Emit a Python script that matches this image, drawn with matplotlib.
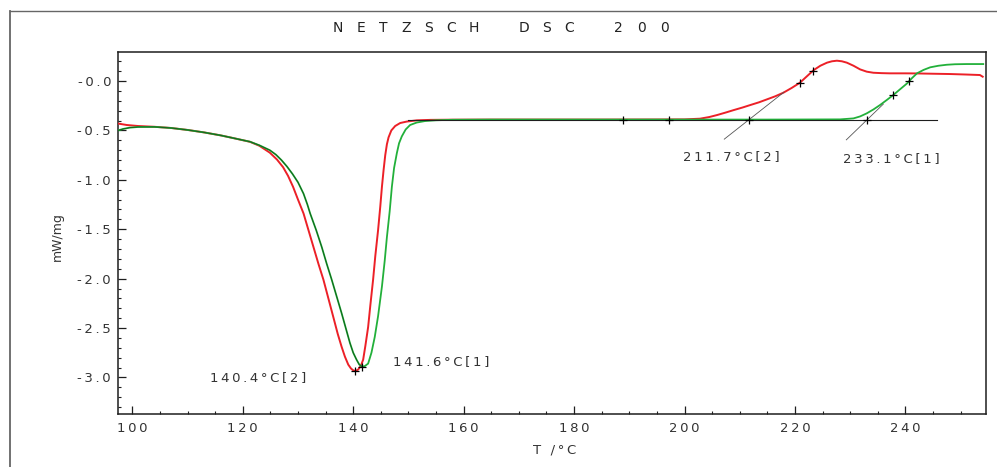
import numpy as np
import matplotlib
matplotlib.use("Agg")
import matplotlib.pyplot as plt
from matplotlib.ticker import MultipleLocator, FuncFormatter
from matplotlib.lines import Line2D

# ---------------- data: DSC heat flow, two samples ----------------
# sample [2] (red)
red_T = [97.4, 99.0, 101.0, 104.0, 107.0, 110.0, 113.0, 116.0, 118.5, 121.3,
         123.0, 124.9, 126.2, 127.3, 128.2, 129.1, 130.0, 131.0, 131.9, 132.8,
         133.7, 134.6, 135.5, 136.4, 137.2, 137.9, 138.5, 139.1, 139.6, 140.0,
         140.4, 140.9, 141.4, 141.8, 142.2, 142.7, 143.1, 143.6, 144.0, 144.5,
         144.9, 145.2, 145.5, 145.8, 146.1, 146.4, 146.9, 147.6, 148.5, 149.7,
         151.5, 154.0, 158.0, 165.0, 175.0, 185.0, 195.0, 200.0, 202.8, 204.5,
         205.9, 207.5, 208.9, 210.5, 211.9, 213.5, 214.9, 216.4, 217.9, 219.4,
         220.9, 222.2, 223.4, 224.6, 225.8, 226.7, 227.6, 228.5, 229.4, 230.6,
         231.8, 233.0, 234.2, 235.7, 237.2, 240.0, 242.1, 245.0, 248.1, 251.0,
         253.5, 254.0]
red_v = [-0.430, -0.445, -0.455, -0.463, -0.475, -0.495, -0.520, -0.550, -0.580, -0.615,
         -0.655, -0.725, -0.795, -0.872, -0.960, -1.070, -1.200, -1.340, -1.510, -1.680,
         -1.850, -2.010, -2.200, -2.390, -2.560, -2.690, -2.790, -2.870, -2.910, -2.928,
         -2.935, -2.920, -2.880, -2.820, -2.680, -2.490, -2.270, -2.010, -1.770, -1.510,
         -1.270, -1.070, -0.900, -0.750, -0.640, -0.570, -0.500, -0.455, -0.425, -0.410,
         -0.398, -0.393, -0.391, -0.390, -0.390, -0.390, -0.389, -0.388, -0.381, -0.364,
         -0.344, -0.318, -0.294, -0.268, -0.243, -0.215, -0.186, -0.155, -0.118, -0.070,
         -0.017, 0.050, 0.111, 0.155, 0.186, 0.200, 0.206, 0.200, 0.186, 0.155,
         0.118, 0.095, 0.084, 0.080, 0.078, 0.078, 0.077, 0.074, 0.071, 0.066,
         0.061, 0.044]

# sample [1] (green)
green_T = [97.4, 98.3, 99.5, 101.0, 104.0, 107.0, 110.0, 113.0, 116.0, 118.5,
           121.3, 123.0, 124.9, 126.0, 127.0, 128.0, 129.0, 130.0, 131.0, 131.7,
           132.2, 133.3, 134.3, 135.2, 136.1, 137.0, 137.9, 138.7, 139.4, 140.0,
           140.6, 141.1, 141.6, 142.1, 142.7, 143.3, 143.9, 144.5, 145.2, 145.7,
           146.1, 146.6, 147.0, 147.4, 147.9, 148.3, 148.8, 149.5, 150.3, 151.5,
           153.0, 155.0, 158.0, 165.0, 175.0, 185.0, 195.0, 205.0, 215.0, 222.0,
           228.2, 230.6, 231.8, 233.0, 234.2, 235.4, 236.6, 237.8, 239.0, 240.3,
           241.2, 242.1, 243.3, 244.5, 246.0, 247.5, 249.0, 251.1, 254.1]
green_v = [-0.500, -0.485, -0.472, -0.465, -0.464, -0.475, -0.495, -0.520, -0.550, -0.580,
           -0.614, -0.650, -0.700, -0.745, -0.800, -0.865, -0.940, -1.025, -1.140, -1.250,
           -1.340, -1.510, -1.680, -1.850, -2.010, -2.180, -2.350, -2.510, -2.650, -2.750,
           -2.820, -2.870, -2.890, -2.885, -2.860, -2.750, -2.590, -2.380, -2.080, -1.820,
           -1.580, -1.320, -1.070, -0.880, -0.730, -0.630, -0.560, -0.490, -0.445, -0.420,
           -0.405, -0.397, -0.392, -0.390, -0.390, -0.390, -0.390, -0.390, -0.390, -0.389,
           -0.388, -0.378, -0.358, -0.327, -0.288, -0.243, -0.193, -0.142, -0.085, -0.024,
           0.030, 0.078, 0.113, 0.139, 0.155, 0.165, 0.170, 0.172, 0.172]

# evaluated results
peak_T = [140.4, 141.6]
peak_v = [-2.935, -2.890]
peak_tags = ["[2]", "[1]"]
onset_T = [211.7, 233.1]
onset_tags = ["[2]", "[1]"]
baseline_level = -0.39
baseline_span = [150.0, 245.8]
baseline_marks_T = [188.8, 197.1]
# tangent through each onset: (start T, end T, slope in mW/mg per K)
tangent_start = [207.2, 229.3]
tangent_end = [218.0, 236.0]
tangent_slope = [0.044, 0.054]
# points picked on the rising flanks
flank_T = [220.9, 223.3, 237.8, 240.6]
flank_v = [-0.017, 0.100, -0.142, 0.003]

x_ticks = [100, 120, 140, 160, 180, 200, 220, 240]
y_ticks = [0.0, -0.5, -1.0, -1.5, -2.0, -2.5, -3.0]

# ---------------- figure ----------------
W, H = 997, 467
plt.rcParams["font.family"] = ["DejaVu Sans"]
fig = plt.figure(figsize=(W / 100, H / 100), dpi=100)
fig.patch.set_facecolor("white")
ax = fig.add_axes([118 / W, 1 - 414 / H, 868 / W, 362 / H])

RED = "#ec2027"
GREEN = "#22b03a"
INK = "#1e1e1e"


def spaced(s):
    return "\u2009".join(s)


ax.plot(red_T, red_v, color=RED, lw=1.4, zorder=3, solid_joinstyle="round")
ax.plot(green_T, green_v, color=GREEN, lw=1.3, zorder=4, solid_joinstyle="round")

# darker trace along the falling flank of sample [1]
gT = np.array(green_T)
gv = np.array(green_v)
m = gT <= peak_T[1]
ax.plot(gT[m], gv[m], color="#0b3d10", lw=0.6, alpha=0.75, zorder=5)

# baseline
ax.plot(baseline_span, [baseline_level, baseline_level], color=INK, lw=0.8, zorder=6)

# onset tangents
for t0, t1, k, to in zip(tangent_start, tangent_end, tangent_slope, onset_T):
    ts = np.array([t0, t1])
    ax.plot(ts, baseline_level + k * (ts - to), color="#555555", lw=0.6, zorder=6)

mk = dict(marker="+", color="k", ms=6, mew=0.9, ls="none", zorder=7)
ax.plot(baseline_marks_T, [baseline_level] * len(baseline_marks_T), **mk)
ax.plot(onset_T, [baseline_level] * len(onset_T), **mk)
ax.plot(flank_T, flank_v, **mk)
ax.plot(peak_T, peak_v, **mk)

# result labels
txt = dict(fontsize=9.5, color="#333333", va="center", ha="left", zorder=8)
ax.text(114.1, -3.00, spaced(f"{peak_T[0]:.1f}°C{peak_tags[0]}"), **txt)
ax.text(147.2, -2.84, spaced(f"{peak_T[1]:.1f}°C{peak_tags[1]}"), **txt)
ax.text(199.7, -0.76, spaced(f"{onset_T[0]:.1f}°C{onset_tags[0]}"), **txt)
ax.text(228.7, -0.78, spaced(f"{onset_T[1]:.1f}°C{onset_tags[1]}"), **txt)

# axes
ax.set_xlim(97.4, 254.6)
ax.set_ylim(-3.37, 0.294)
ax.set_xticks(x_ticks)
ax.set_yticks(y_ticks)
ax.xaxis.set_minor_locator(MultipleLocator(5))
ax.yaxis.set_minor_locator(MultipleLocator(0.1))
ax.xaxis.set_major_formatter(FuncFormatter(lambda v, _: spaced(f"{v:.0f}")))
ax.yaxis.set_major_formatter(FuncFormatter(lambda v, _: spaced(f"-{abs(v):.1f}")))
ax.tick_params(which="major", direction="in", length=6, width=0.9, color=INK,
               labelsize=9.5, labelcolor="#333333")
ax.tick_params(which="minor", direction="in", length=2.5, width=0.8, color=INK)
ax.tick_params(axis="y", pad=5)
ax.tick_params(axis="x", pad=6)
for s in ax.spines.values():
    s.set_color(INK)
    s.set_linewidth(1.1)

fig.text(57 / W, 1 - 237 / H, "mW/mg", rotation=90, ha="center", va="center",
         fontsize=9, color="#333333")
fig.text(555 / W, 1 - 450 / H, spaced("T /°C"), ha="center", va="center",
         fontsize=9.5, color="#333333")

# header, letters on a fixed plotter pitch
pitch = 22.6
x0 = 338
header = ["NETZSCH", "DSC", "200"]
gap = 50
x = x0
for word in header:
    for i, ch in enumerate(word):
        fig.text((x + i * pitch) / W, 1 - 28 / H, ch, ha="center", va="center",
                 fontsize=10, color="#222222")
    x += (len(word) - 1) * pitch + gap

# outer sheet frame
fig.add_artist(Line2D([10 / W, 10 / W], [0, 1 - 11 / H], transform=fig.transFigure,
                      color="#666666", lw=1.3))
fig.add_artist(Line2D([10 / W, 1.0], [1 - 11 / H, 1 - 11 / H], transform=fig.transFigure,
                      color="#666666", lw=1.0))

fig.savefig("out.png", dpi=100, facecolor="white")
